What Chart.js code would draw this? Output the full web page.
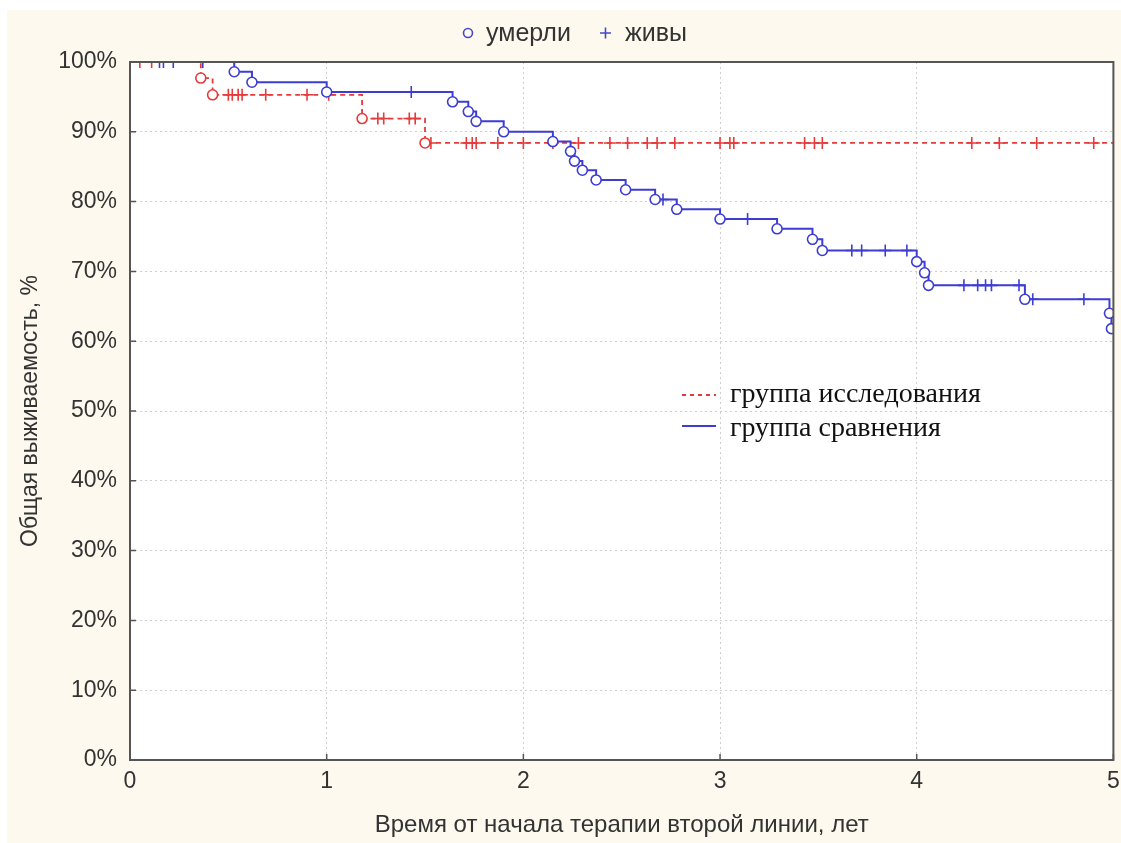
<!DOCTYPE html>
<html><head><meta charset="utf-8">
<script src="https://cdn.jsdelivr.net/npm/chart.js@4/dist/chart.umd.min.js"></script>
<style>html,body{margin:0;padding:0;background:#fff;overflow:hidden;}#wrap{width:1121px;height:843px;position:relative;}canvas{display:block;}</style>
</head><body><div id="wrap"><canvas id="c" width="1121" height="843"></canvas></div>
<script>
// ---- data ----
const xTickValues = [0, 1, 2, 3, 4, 5];
const yTickValues = [0, 10, 20, 30, 40, 50, 60, 70, 80, 90, 100];

const groupNames = ['группа исследования', 'группа сравнения'];
const markerNames = ['умерли', 'живы'];
const xTitle = 'Время от начала терапии второй линии, лет';
const yTitle = 'Общая выживаемость, %';

// study group (red, dashed)
const redDeathTimes = [0.36, 0.42, 1.18, 1.50];
const redDeathSurv  = [97.7, 95.3, 91.9, 88.4];
const redCensorTimes = [0.05, 0.11, 0.50, 0.52, 0.55, 0.57, 0.69, 0.90, 1.01, 1.26, 1.29, 1.42, 1.45,
  1.53, 1.71, 1.74, 1.76, 1.87, 2.00, 2.15, 2.28, 2.44, 2.53, 2.63, 2.68, 2.77, 3.00, 3.05, 3.07,
  3.43, 3.48, 3.52, 4.28, 4.42, 4.61, 4.90];

// comparison group (blue, solid)
const blueDeathTimes = [0.53, 0.62, 1.00, 1.64, 1.72, 1.76, 1.90, 2.15, 2.24, 2.26, 2.30, 2.37, 2.52,
  2.67, 2.78, 3.00, 3.29, 3.47, 3.52, 4.00, 4.04, 4.06, 4.55, 4.98, 4.99];
const blueDeathSurv  = [98.6, 97.1, 95.7, 94.3, 92.9, 91.5, 90.0, 88.6, 87.2, 85.8, 84.5, 83.1, 81.7,
  80.3, 78.9, 77.5, 76.1, 74.6, 73.0, 71.4, 69.8, 68.0, 66.0, 64.0, 61.8];
const blueCensorTimes = [0.15, 0.17, 0.22, 0.37, 1.43, 2.71, 3.14, 3.67, 3.72, 3.84, 3.95,
  4.24, 4.31, 4.35, 4.38, 4.52, 4.59, 4.85];

const xMax = 5;
const RED = '#e63a3a';
const BLUE = '#3d3dd4';
const FONT = "'Liberation Sans', Arial, sans-serif";
const SERIF = "'Liberation Serif', 'Times New Roman', serif";

// ---- helpers building library data ----
function stepLine(times, surv) {
  const pts = [{x: 0, y: 100}];
  times.forEach((t, i) => pts.push({x: t, y: surv[i]}));
  pts.push({x: xMax, y: surv[surv.length - 1]});
  return pts;
}
function levelAt(times, surv, t) {
  let v = 100;
  times.forEach((tt, i) => { if (tt <= t) v = surv[i]; });
  return v;
}
function deathPts(times, surv) { return times.map((t, i) => ({x: t, y: surv[i]})); }
function censorPts(ct, times, surv) { return ct.map(t => ({x: t, y: levelAt(times, surv, t)})); }

const chromePlugin = {
  id: 'chrome',
  beforeDraw(chart) {
    const {ctx, chartArea: a} = chart;
    ctx.save();
    ctx.fillStyle = '#ffffff';
    ctx.fillRect(0, 0, chart.width, chart.height);
    ctx.fillStyle = '#fdf9ee';
    ctx.fillRect(7, 10, chart.width - 7, chart.height - 10);
    ctx.fillStyle = '#ffffff';
    ctx.fillRect(a.left, a.top, a.right - a.left, a.bottom - a.top);
    ctx.restore();
  },
  afterDatasetsDraw(chart) {
    const {ctx, chartArea: a, scales} = chart;
    ctx.save();
    // frame
    ctx.strokeStyle = '#555';
    ctx.lineWidth = 2;
    ctx.strokeRect(a.left, a.top, a.right - a.left, a.bottom - a.top);
    // inward ticks
    ctx.lineWidth = 1.5;
    ctx.beginPath();
    yTickValues.forEach(v => {
      const y = scales.y.getPixelForValue(v);
      ctx.moveTo(a.left, y); ctx.lineTo(a.left + 6, y);
    });
    xTickValues.forEach(v => {
      const x = scales.x.getPixelForValue(v);
      ctx.moveTo(x, a.bottom); ctx.lineTo(x, a.bottom - 6);
    });
    ctx.stroke();

    // top legend (markers)
    ctx.font = '25px ' + FONT;
    ctx.textBaseline = 'middle';
    ctx.fillStyle = '#333';
    ctx.strokeStyle = '#4848c8';
    ctx.lineWidth = 1.6;
    ctx.beginPath(); ctx.arc(468, 33, 4.5, 0, Math.PI * 2); ctx.stroke();
    ctx.fillText(markerNames[0], 486, 34);
    ctx.beginPath();
    ctx.moveTo(600, 33); ctx.lineTo(611, 33);
    ctx.moveTo(605.5, 27.5); ctx.lineTo(605.5, 38.5);
    ctx.stroke();
    ctx.fillText(markerNames[1], 625, 34);

    // group legend
    ctx.font = '28px ' + SERIF;
    ctx.fillStyle = '#111';
    ctx.strokeStyle = RED; ctx.lineWidth = 2; ctx.setLineDash([4, 4]);
    ctx.beginPath(); ctx.moveTo(682, 395); ctx.lineTo(716, 395); ctx.stroke();
    ctx.setLineDash([]);
    ctx.fillText(groupNames[0], 730, 395);
    ctx.strokeStyle = BLUE; ctx.lineWidth = 2.2;
    ctx.beginPath(); ctx.moveTo(682, 426); ctx.lineTo(716, 426); ctx.stroke();
    ctx.fillText(groupNames[1], 730, 429);
    ctx.restore();
  }
};

new Chart(document.getElementById('c'), {
  type: 'scatter',
  data: {
    datasets: [
      {label: groupNames[0], type: 'line', data: stepLine(redDeathTimes, redDeathSurv), stepped: 'before',
       borderColor: RED, borderWidth: 1.8, borderDash: [5, 4], pointRadius: 0, fill: false, order: 4},
      {label: groupNames[1], type: 'line', data: stepLine(blueDeathTimes, blueDeathSurv), stepped: 'before',
       borderColor: BLUE, borderWidth: 2, pointRadius: 0, fill: false, order: 3},
      {label: 'red deaths', data: deathPts(redDeathTimes, redDeathSurv), pointStyle: 'circle', pointRadius: 5,
       borderColor: RED, backgroundColor: '#fff', borderWidth: 1.6, order: 2},
      {label: 'blue deaths', data: deathPts(blueDeathTimes, blueDeathSurv), pointStyle: 'circle', pointRadius: 5,
       borderColor: BLUE, backgroundColor: '#fff', borderWidth: 1.6, order: 1},
      {label: 'red censored', data: censorPts(redCensorTimes, redDeathTimes, redDeathSurv), pointStyle: 'cross',
       pointRadius: 6, borderColor: RED, borderWidth: 1.6, order: 2},
      {label: 'blue censored', data: censorPts(blueCensorTimes, blueDeathTimes, blueDeathSurv), pointStyle: 'cross',
       pointRadius: 6, borderColor: BLUE, borderWidth: 1.6, order: 1}
    ]
  },
  options: {
    responsive: false,
    devicePixelRatio: 1,
    animation: false,
    events: [],
    layout: {padding: {top: 62, right: 7, left: 0, bottom: 0}},
    plugins: {legend: {display: false}, tooltip: {enabled: false}},
    scales: {
      x: {
        type: 'linear', min: 0, max: xMax,
        afterBuildTicks: s => { s.ticks = xTickValues.map(v => ({value: v})); },
        afterFit: s => { s.height = 83; s.paddingLeft = 0; s.paddingRight = 0; },
        ticks: {font: {family: FONT, size: 23}, color: '#333', padding: 8, maxRotation: 0},
        grid: {color: '#cfcfcf', drawTicks: false, lineWidth: 1},
        border: {display: false, dash: [2, 3]},
        title: {display: true, text: xTitle, font: {family: FONT, size: 24}, color: '#333', padding: {top: 0, bottom: 3}}
      },
      y: {
        type: 'linear', min: 0, max: 100,
        afterBuildTicks: s => { s.ticks = yTickValues.map(v => ({value: v})); },
        afterFit: s => { s.width = 130; s.paddingTop = 0; s.paddingBottom = 0; },
        ticks: {font: {family: FONT, size: 23}, color: '#333', padding: 13, callback: v => v + '%'},
        grid: {color: '#cfcfcf', drawTicks: false, lineWidth: 1},
        border: {display: false, dash: [2, 3]},
        title: {display: true, text: yTitle, font: {family: FONT, size: 23}, color: '#333', padding: {top: 17, bottom: 0}}
      }
    }
  },
  plugins: [chromePlugin]
});
</script></body></html>
